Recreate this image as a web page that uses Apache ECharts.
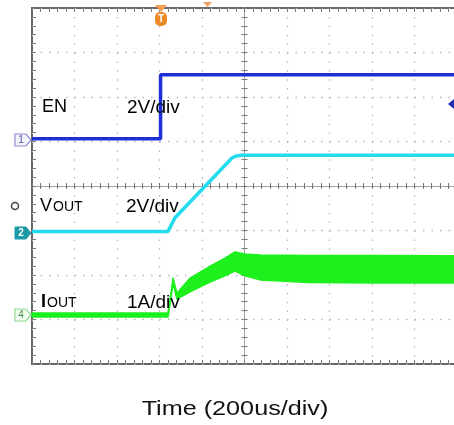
<!DOCTYPE html>
<html><head><meta charset="utf-8">
<script src="https://cdn.jsdelivr.net/npm/echarts@6/dist/echarts.min.js"></script>
<style>html,body{margin:0;padding:0;background:#fff}#c{width:454px;height:425px}</style>
</head><body><div id="c"></div>
<script>
// Time in µs relative to screen centre (200 µs/div, 10 divisions)
const enTime   = [-1000, -395, -395, 1000];
const enVolts  = [0, 0, 2.88, 2.88];
const voutTime  = [-1000, -360, -327, -59, -40, -12, 1000];
const voutVolts = [0, 0, 0.61, 3.30, 3.39, 3.42, 3.42];
const ioutTime  = [-1000, -360, -336, -318, -256, -162, -92, -45, 2, 73, 300, 600, 1000];
const ioutUpper = [0.045, 0.045, 0.83, 0.49, 0.83, 1.10, 1.28, 1.42, 1.37, 1.35, 1.34, 1.34, 1.33];
const ioutLower = [-0.045, -0.045, 0.70, 0.36, 0.52, 0.74, 0.88, 0.99, 0.88, 0.79, 0.73, 0.72, 0.72];
// channel settings: offset in divisions from centre, units per division
const enOffset = 1.06, enScale = 2;
const voutOffset = -1.02, voutScale = 2;
const ioutOffset = -2.90, ioutScale = 1;

const toDiv = (vals, off, sc) => vals.map(v => off + v / sc);
const pairs = (xs, ys) => xs.map((x, i) => [x, ys[i]]);

const FONT = '"Liberation Sans", Arial, sans-serif';
const tickCol = '#7a7a7a';
const centreCol = '#a0a0a0';
const minor = {show: true, splitNumber: 5, length: 3, lineStyle: {color: tickCol, width: 1}};
const noSplit = {show: false};
const baseX = {type: 'value', min: -1000, max: 1000, interval: 200, axisLabel: {show: false}};
const baseY = {type: 'value', min: -4, max: 4, interval: 1, axisLabel: {show: false}};

const iLow = pairs(ioutTime, toDiv(ioutLower, ioutOffset, ioutScale));
const iUp = pairs(ioutTime, toDiv(ioutUpper, ioutOffset, ioutScale));
const green = '#1ef01e';

const chart = echarts.init(document.getElementById('c'));
chart.setOption({
  animation: false,
  backgroundColor: '#fff',
  grid: {left: 32, top: 8, width: 425, height: 356, show: true, borderColor: '#666', borderWidth: 2, backgroundColor: 'transparent', outerBoundsMode: 'none'},
  xAxis: [
    Object.assign({}, baseX, {position: 'bottom', splitLine: {show: true, lineStyle: {color: '#b8b8b8', width: 1.3, type: [1.5, 7.4]}},
      axisLine: {show: true, onZero: true, lineStyle: {color: centreCol, width: 1}},
      axisTick: {show: true, inside: false, length: 3, lineStyle: {color: tickCol}}, minorTick: minor}),
    Object.assign({}, baseX, {position: 'top', splitLine: noSplit,
      axisLine: {show: true, onZero: true, lineStyle: {color: centreCol, width: 1}},
      axisTick: {show: true, inside: false, length: 3, lineStyle: {color: tickCol}}, minorTick: minor}),
    Object.assign({}, baseX, {position: 'top', splitLine: noSplit,
      axisLine: {show: false, onZero: false},
      axisTick: {show: true, inside: true, length: 4, lineStyle: {color: tickCol}}, minorTick: Object.assign({}, minor, {length: 4})}),
    Object.assign({}, baseX, {position: 'bottom', splitLine: noSplit,
      axisLine: {show: false, onZero: false},
      axisTick: {show: true, inside: true, length: 4, lineStyle: {color: tickCol}}, minorTick: Object.assign({}, minor, {length: 4})})
  ],
  yAxis: [
    Object.assign({}, baseY, {position: 'left', splitLine: {show: true, lineStyle: {color: '#b8b8b8', width: 1.3, type: [1.5, 7]}},
      axisLine: {show: true, onZero: true, lineStyle: {color: centreCol, width: 1}},
      axisTick: {show: true, inside: false, length: 3, lineStyle: {color: tickCol}}, minorTick: minor}),
    Object.assign({}, baseY, {position: 'right', splitLine: noSplit,
      axisLine: {show: true, onZero: true, lineStyle: {color: centreCol, width: 1}},
      axisTick: {show: true, inside: false, length: 3, lineStyle: {color: tickCol}}, minorTick: minor}),
    Object.assign({}, baseY, {position: 'left', splitLine: noSplit,
      axisLine: {show: false, onZero: false},
      axisTick: {show: true, inside: true, length: 4, lineStyle: {color: tickCol}}, minorTick: Object.assign({}, minor, {length: 4})})
  ],
  series: [
    {type: 'line', name: 'EN', data: pairs(enTime, toDiv(enVolts, enOffset, enScale)), showSymbol: false, symbol: 'none',
      lineStyle: {color: '#1d30d8', width: 3.5}, z: 5},
    {type: 'line', name: 'VOUT', data: pairs(voutTime, toDiv(voutVolts, voutOffset, voutScale)), showSymbol: false, symbol: 'none',
      lineStyle: {color: '#22dcee', width: 3.5}, z: 5},
    {type: 'custom', name: 'IOUT', data: [[0, 0]], z: 5,
      renderItem: function (params, api) {
        const pts = iUp.map(p => api.coord(p)).concat(iLow.slice().reverse().map(p => api.coord(p)));
        return {type: 'polygon', shape: {points: pts}, style: {fill: green, stroke: green, lineWidth: 1.5, lineJoin: 'round'}};
      }}
  ],
  graphic: [
    // channel labels
    {type: 'text', z: 20, left: 42, top: 98, style: {text: 'EN', font: '18px ' + FONT, fill: '#000'}},
    {type: 'text', z: 20, left: 127, top: 98, style: {text: '2V/div', font: '19px ' + FONT, fill: '#000'}},
    {type: 'text', z: 20, left: 40, top: 197, style: {text: 'V', font: '18px ' + FONT, fill: '#000'}},
    {type: 'text', z: 20, left: 53, top: 200, style: {text: 'OUT', font: '14px ' + FONT, fill: '#000'}},
    {type: 'text', z: 20, left: 126, top: 197, style: {text: '2V/div', font: '19px ' + FONT, fill: '#000'}},
    {type: 'text', z: 20, left: 41, top: 293, style: {text: 'I', font: 'bold 18px ' + FONT, fill: '#000'}},
    {type: 'text', z: 20, left: 47, top: 296, style: {text: 'OUT', font: '14px ' + FONT, fill: '#000'}},
    {type: 'text', z: 20, left: 127, top: 293, style: {text: '1A/div', font: '19px ' + FONT, fill: '#000'}},
    // x-axis caption
    {type: 'text', z: 20, x: 235, y: 409, scaleX: 1.2, style: {text: 'Time (200us/div)', font: '21px ' + FONT, fill: '#111', align: 'center', verticalAlign: 'middle'}},
    // channel markers
    {type: 'polygon', z: 20, shape: {points: [[15, 134], [26, 134], [31, 140], [26, 146], [15, 146]]}, style: {fill: '#f4f4ff', stroke: '#8c8cd0', lineWidth: 1.2}},
    {type: 'text', z: 21, x: 21, y: 140, style: {text: '1', font: '10px ' + FONT, fill: '#5050a0', align: 'center', verticalAlign: 'middle'}},
    {type: 'polygon', z: 20, shape: {points: [[15, 227], [26, 227], [31, 233], [26, 239], [15, 239]]}, style: {fill: '#1b9aa6', stroke: '#1b9aa6', lineWidth: 1}},
    {type: 'text', z: 21, x: 21, y: 233, style: {text: '2', font: 'bold 10px ' + FONT, fill: '#fff', align: 'center', verticalAlign: 'middle'}},
    {type: 'polygon', z: 20, shape: {points: [[15, 309], [26, 309], [31, 315], [26, 321], [15, 321]]}, style: {fill: '#effcef', stroke: '#8fd88f', lineWidth: 1.2}},
    {type: 'text', z: 21, x: 21, y: 315, style: {text: '4', font: '10px ' + FONT, fill: '#4a8a4a', align: 'center', verticalAlign: 'middle'}},
    {type: 'circle', z: 20, shape: {cx: 15, cy: 206, r: 3.5}, style: {fill: 'none', stroke: '#444', lineWidth: 1.5}},
    // trigger markers
    {type: 'polygon', z: 20, shape: {points: [[155, 5], [167, 5], [161, 12]]}, style: {fill: '#f5a050'}},
    {type: 'rect', z: 20, shape: {x: 155, y: 12, width: 12, height: 14, r: 5}, style: {fill: '#ef8a2a'}},
    {type: 'text', z: 21, x: 161, y: 19, style: {text: 'T', font: 'bold 10px ' + FONT, fill: '#fff', align: 'center', verticalAlign: 'middle'}},
    {type: 'polygon', z: 20, shape: {points: [[203, 2], [212, 2], [207.5, 7]]}, style: {fill: '#f0a060'}},
    {type: 'polygon', z: 20, shape: {points: [[454, 99], [448, 104], [454, 109]]}, style: {fill: '#1d30b0'}}
  ]
});
</script>
</body></html>
